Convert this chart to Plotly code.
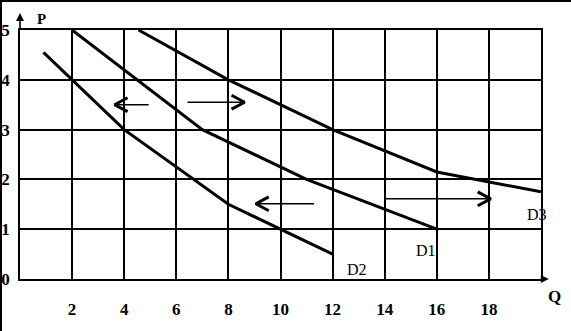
import plotly.graph_objects as go

# ---------------- data ----------------
X_TICKS = [2, 4, 6, 8, 10, 12, 14, 16, 18]
X_TICK_LABELS = ["2", "4", "6", "8", "10", "12", "14", "16", "18"]
Y_TICKS = [0, 1, 2, 3, 4, 5]
Y_TICK_LABELS = ["0", "1", "2", "3", "4", "5"]

D1_Q = [2, 7, 11, 16]
D1_P = [5, 3, 2, 1]
D2_Q = [0.9, 2, 4, 8, 10, 12]
D2_P = [4.55, 4, 3, 1.5, 1, 0.5]
D3_Q = [4.55, 8, 12, 16, 20]
D3_P = [5, 4, 3, 2.15, 1.75]

CURVE_NAMES = ["D1", "D2", "D3"]
LABEL_Q = [15.58, 12.93, 19.86]
LABEL_P = [0.57, 0.2, 1.3]

ARROW_FROM_Q = [4.94, 6.43, 11.29, 14.0]
ARROW_TO_Q = [3.63, 8.62, 9.05, 18.07]
ARROW_P = [3.5, 3.55, 1.51, 1.61]

Q_RANGE = [0, 20]
P_RANGE = [0, 5]

# ---------------- layout constants ----------------
W, H = 571, 331
ML, MR, MT, MB = 20, 30, 30, 52
PW, PH = W - ML - MR, H - MT - MB
SERIF = "Liberation Serif, Times New Roman, serif"
HEAD_L = 0.5   # chevron length (Q units)
HEAD_H = 0.14  # chevron half height (P units)


def px_to_paper_x(px):
    return (px - ML) / PW


def px_to_paper_y(py):
    return (H - MB - py) / PH


fig = go.Figure()

for qs, ps in [(D1_Q, D1_P), (D2_Q, D2_P), (D3_Q, D3_P)]:
    fig.add_trace(go.Scatter(x=qs, y=ps, mode="lines",
                             line=dict(color="black", width=3),
                             hoverinfo="skip", showlegend=False))

for q0, q1, p in zip(ARROW_FROM_Q, ARROW_TO_Q, ARROW_P):
    d = 1 if q1 > q0 else -1
    fig.add_trace(go.Scatter(x=[q0, q1], y=[p, p], mode="lines",
                             line=dict(color="black", width=1.4),
                             hoverinfo="skip", showlegend=False))
    fig.add_trace(go.Scatter(x=[q1 - d * HEAD_L, q1, q1 - d * HEAD_L],
                             y=[p + HEAD_H, p, p - HEAD_H], mode="lines",
                             line=dict(color="black", width=3),
                             hoverinfo="skip", showlegend=False))

annotations = []
for name, q, p in zip(CURVE_NAMES, LABEL_Q, LABEL_P):
    annotations.append(dict(x=q, y=p, xref="x", yref="y", text=name,
                            showarrow=False,
                            font=dict(family=SERIF, size=16, color="black")))

# axis arrows
annotations.append(dict(x=20.3, y=0, ax=Q_RANGE[1], ay=0, xref="x", yref="y",
                        axref="x", ayref="y", text="", showarrow=True,
                        arrowhead=2, arrowsize=1, arrowwidth=1.6,
                        arrowcolor="black"))
annotations.append(dict(x=0, y=5.34, ax=0, ay=P_RANGE[1], xref="x", yref="y",
                        axref="x", ayref="y", text="", showarrow=True,
                        arrowhead=2, arrowsize=1, arrowwidth=1.6,
                        arrowcolor="black"))
annotations.append(dict(x=px_to_paper_x(35), y=px_to_paper_y(9),
                        xref="paper", yref="paper", text="P",
                        showarrow=False,
                        font=dict(family=SERIF, size=15, color="black",
                                  weight="bold")))
annotations.append(dict(x=px_to_paper_x(563), y=px_to_paper_y(308),
                        xref="paper", yref="paper", text="Q",
                        showarrow=False,
                        font=dict(family=SERIF, size=17, color="black",
                                  weight="bold")))

shapes = [
    dict(type="line", xref="paper", yref="paper",
         x0=px_to_paper_x(1), x1=px_to_paper_x(1),
         y0=px_to_paper_y(0), y1=px_to_paper_y(H),
         line=dict(color="black", width=2)),
    dict(type="line", xref="paper", yref="paper",
         x0=px_to_paper_x(0), x1=px_to_paper_x(W),
         y0=px_to_paper_y(1), y1=px_to_paper_y(1),
         line=dict(color="black", width=2)),
]

tickfont = dict(family=SERIF, size=17, color="black", weight="bold")
fig.update_layout(
    width=W, height=H,
    margin=dict(l=ML, r=MR, t=MT, b=MB, pad=0, autoexpand=False),
    paper_bgcolor="white", plot_bgcolor="white",
    showlegend=False,
    annotations=annotations,
    shapes=shapes,
    xaxis=dict(range=Q_RANGE, tickvals=X_TICKS, ticktext=X_TICK_LABELS,
               showgrid=True, gridcolor="black", gridwidth=1.6,
               showline=True, mirror=True, linecolor="black", linewidth=1.8,
               zeroline=False, ticks="", ticklabelstandoff=14,
               automargin=False,
               tickfont=tickfont, fixedrange=True),
    yaxis=dict(range=P_RANGE, tickvals=Y_TICKS, ticktext=Y_TICK_LABELS,
               showgrid=True, gridcolor="black", gridwidth=1.6,
               showline=True, mirror=True, linecolor="black", linewidth=1.8,
               zeroline=False, ticks="", ticklabelstandoff=5,
               automargin=False,
               tickfont=tickfont, fixedrange=True),
)

fig.write_html("out.html", config={"displayModeBar": False})
